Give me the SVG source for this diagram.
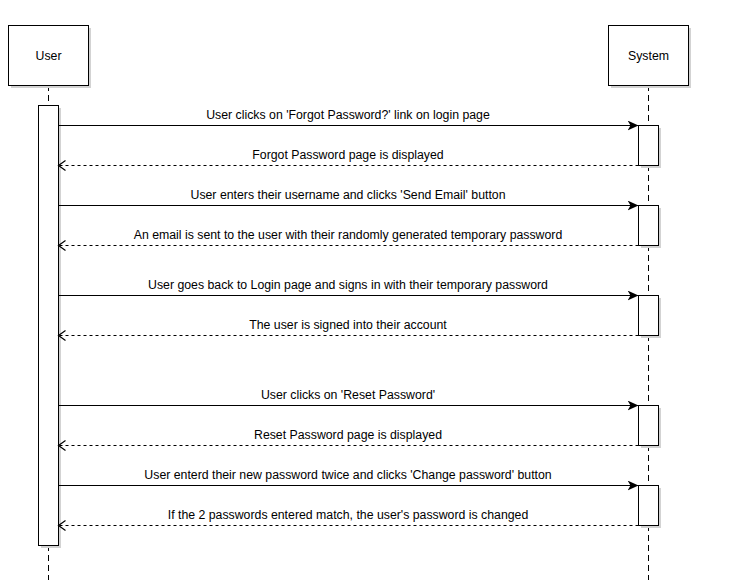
<svg xmlns="http://www.w3.org/2000/svg" width="730" height="587" viewBox="0 0 730 587">
<defs>
<marker id="fill" markerWidth="12" markerHeight="12" refX="11" refY="5" orient="auto" markerUnits="userSpaceOnUse">
<path d="M0,0 L11,5 L0,10 L3,5 Z" fill="#000"/>
</marker>
<marker id="open" markerWidth="12" markerHeight="12" refX="8" refY="5" orient="auto" markerUnits="userSpaceOnUse">
<path d="M1,0 L8,5 L1,10" fill="none" stroke="#000" stroke-width="1.2"/>
</marker>
</defs>
<style>
.box{fill:#fff;stroke:#000;stroke-width:1}
.shadow{fill:#d3d3d3}
.life{stroke:#000;stroke-width:1;stroke-dasharray:6 4;fill:none}
.msg{stroke:#000;stroke-width:1;fill:none}
.ret{stroke:#000;stroke-width:1;fill:none;stroke-dasharray:3 3}
text{font-family:"Liberation Sans",Arial,sans-serif;font-size:12.3px;fill:#000;text-anchor:middle}
</style>
<rect width="730" height="587" fill="#fff"/>
<g id="lifelines">
<line class="life" x1="48.5" y1="85" x2="48.5" y2="580"/>
<line class="life" x1="648.5" y1="85" x2="648.5" y2="580"/>
</g>
<g id="user">
<rect class="shadow" x="11" y="28" width="80" height="60"/>
<rect class="box" x="8.5" y="25.5" width="80" height="60"/>
<text x="48.5" y="60">User</text>
</g>
<g id="system">
<rect class="shadow" x="611" y="28" width="80" height="60"/>
<rect class="box" x="608.5" y="25.5" width="80" height="60"/>
<text x="648.5" y="60">System</text>
</g>
<g id="user-activation">
<rect class="shadow" x="41" y="108" width="20" height="440"/>
<rect class="box" x="38.5" y="105.5" width="20" height="440"/>
</g>
<g id="system-activations">
<rect class="shadow" x="641" y="128" width="20" height="40"/>
<rect class="box" x="638.5" y="125.5" width="20" height="40"/>
<rect class="shadow" x="641" y="208" width="20" height="40"/>
<rect class="box" x="638.5" y="205.5" width="20" height="40"/>
<rect class="shadow" x="641" y="298" width="20" height="40"/>
<rect class="box" x="638.5" y="295.5" width="20" height="40"/>
<rect class="shadow" x="641" y="408" width="20" height="40"/>
<rect class="box" x="638.5" y="405.5" width="20" height="40"/>
<rect class="shadow" x="641" y="488" width="20" height="40"/>
<rect class="box" x="638.5" y="485.5" width="20" height="40"/>
</g>
<g id="connectors">
<line class="msg" x1="58.5" y1="125.5" x2="638.5" y2="125.5" marker-end="url(#fill)"/>
<line class="ret" x1="638.5" y1="165.5" x2="58.5" y2="165.5" marker-end="url(#open)"/>
<line class="msg" x1="58.5" y1="205.5" x2="638.5" y2="205.5" marker-end="url(#fill)"/>
<line class="ret" x1="638.5" y1="245.5" x2="58.5" y2="245.5" marker-end="url(#open)"/>
<line class="msg" x1="58.5" y1="295.5" x2="638.5" y2="295.5" marker-end="url(#fill)"/>
<line class="ret" x1="638.5" y1="335.5" x2="58.5" y2="335.5" marker-end="url(#open)"/>
<line class="msg" x1="58.5" y1="405.5" x2="638.5" y2="405.5" marker-end="url(#fill)"/>
<line class="ret" x1="638.5" y1="445.5" x2="58.5" y2="445.5" marker-end="url(#open)"/>
<line class="msg" x1="58.5" y1="485.5" x2="638.5" y2="485.5" marker-end="url(#fill)"/>
<line class="ret" x1="638.5" y1="525.5" x2="58.5" y2="525.5" marker-end="url(#open)"/>
</g>
<g id="labels">
<text x="348" y="119">User clicks on 'Forgot Password?' link on login page</text>
<text x="348" y="159">Forgot Password page is displayed</text>
<text x="348" y="199">User enters their username and clicks 'Send Email' button</text>
<text x="348" y="239">An email is sent to the user with their randomly generated temporary password</text>
<text x="348" y="289">User goes back to Login page and signs in with their temporary password</text>
<text x="348" y="329">The user is signed into their account</text>
<text x="348" y="399">User clicks on 'Reset Password'</text>
<text x="348" y="439">Reset Password page is displayed</text>
<text x="348" y="479">User enterd their new password twice and clicks 'Change password' button</text>
<text x="348" y="519">If the 2 passwords entered match, the user's password is changed</text>
</g>
</svg>
